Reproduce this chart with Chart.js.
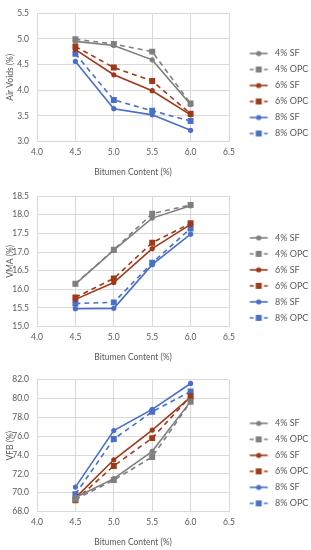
<!DOCTYPE html>
<html lang="en">
<head>
    <meta charset="UTF-8">
    <title>Bitumen Content charts</title>
    <script src="https://cdn.jsdelivr.net/npm/chart.js"></script>
    <style>
        body { margin: 0; background: #fff; }
        .box { position: absolute; left: 0; }
    </style>
</head>
<body>
    <div class="box" style="top:0px"><canvas id="airVoids" width="311" height="183"></canvas></div>
    <div class="box" style="top:183px"><canvas id="vma" width="311" height="182"></canvas></div>
    <div class="box" style="top:365px"><canvas id="vfb" width="311" height="185"></canvas></div>

    <script>
    // x values (bitumen content %) and axis ticks
    const bitumen = [4.5, 5.0, 5.5, 6.0];
    const xTicks = [4.0, 4.5, 5.0, 5.5, 6.0, 6.5];
    const seriesNames = ['4% SF', '4% OPC', '6% SF', '6% OPC', '8% SF', '8% OPC'];

    // Air Voids (%)
    const avTicks = [3.0, 3.5, 4.0, 4.5, 5.0, 5.5];
    const av4SF = [4.95, 4.87, 4.59, 3.72];
    const av4OPC = [4.99, 4.90, 4.75, 3.74];
    const av6SF = [4.79, 4.30, 3.99, 3.52];
    const av6OPC = [4.85, 4.44, 4.18, 3.54];
    const av8SF = [4.56, 3.64, 3.52, 3.22];
    const av8OPC = [4.71, 3.81, 3.60, 3.40];

    // VMA (%)
    const vmaTicks = [15.0, 15.5, 16.0, 16.5, 17.0, 17.5, 18.0, 18.5];
    const vma4SF = [16.14, 17.05, 17.91, 18.24];
    const vma4OPC = [16.15, 17.06, 18.03, 18.26];
    const vma6SF = [15.73, 16.18, 17.09, 17.74];
    const vma6OPC = [15.78, 16.29, 17.25, 17.77];
    const vma8SF = [15.48, 15.49, 16.66, 17.48];
    const vma8OPC = [15.62, 15.65, 16.71, 17.63];

    // VFB (%)
    const vfbTicks = [68, 70, 72, 74, 76, 78, 80, 82];
    const vfb4SF = [69.5, 71.5, 74.4, 79.7];
    const vfb4OPC = [69.3, 71.35, 73.8, 79.65];
    const vfb6SF = [69.45, 73.5, 76.65, 80.15];
    const vfb6OPC = [69.2, 72.85, 75.8, 80.25];
    const vfb8SF = [70.6, 76.6, 78.85, 81.6];
    const vfb8OPC = [69.85, 75.7, 78.6, 80.75];

    const colors = ['#7f7f7f', '#7f7f7f', '#9e3a1a', '#9e3a1a', '#4a6fc8', '#4a6fc8'];
    const textColor = '#595959';
    const gridColor = '#d9d9d9';

    Chart.defaults.font.family = 'Lato';
    Chart.defaults.color = textColor;

    // legend swatch: short line with marker in the middle
    function swatch(color, dashed) {
        const c = document.createElement('canvas');
        c.width = 36; c.height = 10;
        const g = c.getContext('2d');
        g.strokeStyle = color;
        g.lineWidth = 1.6;
        if (dashed) g.setLineDash([4, 3]);
        g.beginPath();
        g.moveTo(14.5, 5); g.lineTo(32.5, 5);
        g.stroke();
        g.setLineDash([]);
        g.fillStyle = color;
        if (dashed) {
            g.fillStyle = '#fff';
            g.fillRect(19.5, 1.5, 9, 7);
            g.fillStyle = color;
            g.fillRect(20.5, 2, 6, 6);
        } else {
            g.beginPath();
            g.arc(23.5, 5, 2.6, 0, Math.PI * 2);
            g.fill();
        }
        return c;
    }
    const swatches = seriesNames.map((n, i) => swatch(colors[i], i % 2 === 1));

    function makeChart(id, yTitle, yTicks, series, pad) {
        const datasets = series.map((vals, i) => {
            const opc = i % 2 === 1;
            return {
                label: seriesNames[i],
                data: vals.map((v, j) => ({ x: bitumen[j], y: v })),
                borderColor: colors[i],
                backgroundColor: colors[i],
                borderWidth: 1.6,
                borderDash: opc ? [5, 4] : [],
                pointStyle: opc ? 'rect' : 'circle',
                pointRadius: opc ? 4.2 : 2.6,
                pointBorderWidth: 0,
                tension: 0
            };
        });
        const step = yTicks[1] - yTicks[0];
        return new Chart(document.getElementById(id), {
            type: 'line',
            data: { datasets: datasets },
            options: {
                responsive: false,
                animation: false,
                devicePixelRatio: 1,
                layout: { padding: { top: pad[0], bottom: pad[1], left: 0, right: 0 } },
                plugins: {
                    tooltip: { enabled: false },
                    legend: {
                        position: 'right',
                        maxWidth: 82,
                        labels: {
                            usePointStyle: true,
                            pointStyleWidth: 34.5,
                            padding: 7,
                            color: textColor,
                            font: { size: 9 },
                            sort: (a, b) => a.datasetIndex - b.datasetIndex,
                            generateLabels: (chart) => {
                                const items = Chart.defaults.plugins.legend.labels.generateLabels(chart);
                                items.forEach(it => { it.pointStyle = swatches[it.datasetIndex]; it.rotation = 0; });
                                return items;
                            }
                        }
                    }
                },
                scales: {
                    x: {
                        type: 'linear',
                        min: xTicks[0],
                        max: xTicks[xTicks.length - 1],
                        ticks: { stepSize: 0.5, padding: 6, font: { size: 8.5 }, callback: v => v.toFixed(1) },
                        grid: { color: gridColor, drawTicks: false },
                        border: { color: gridColor },
                        title: { display: true, text: 'Bitumen Content (%)', font: { size: 8.5 }, padding: { top: 3, bottom: 0 } }
                    },
                    y: {
                        min: yTicks[0],
                        max: yTicks[yTicks.length - 1],
                        ticks: { stepSize: step, padding: 8, font: { size: 8.5 }, callback: v => v.toFixed(1) },
                        grid: { color: gridColor, drawTicks: false },
                        border: { color: gridColor },
                        title: { display: true, text: yTitle, font: { size: 8.5 }, padding: { top: 5, bottom: 0 } },
                        afterFit: (scale) => { scale.width = 37; }
                    }
                }
            }
        });
    }

    makeChart('airVoids', 'Air Voids (%)', avTicks, [av4SF, av4OPC, av6SF, av6OPC, av8SF, av8OPC], [10, 6]);
    makeChart('vma', 'VMA (%)', vmaTicks, [vma4SF, vma4OPC, vma6SF, vma6OPC, vma8SF, vma8OPC], [10.7, 3]);
    makeChart('vfb', 'VFB (%)', vfbTicks, [vfb4SF, vfb4OPC, vfb6SF, vfb6OPC, vfb8SF, vfb8OPC], [14.7, 3]);
    </script>
</body>
</html>
